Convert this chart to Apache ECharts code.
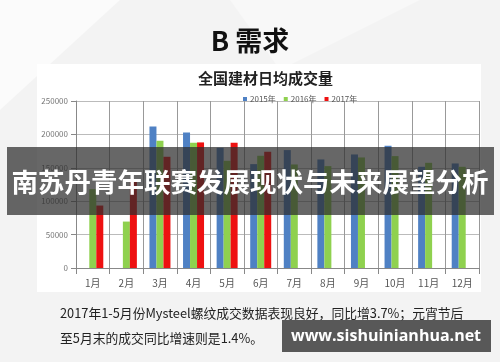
<!DOCTYPE html>
<html><head><meta charset="utf-8">
<script src="https://cdn.jsdelivr.net/npm/echarts@6/dist/echarts.min.js"></script>
<style>html,body{margin:0;padding:0;background:#f3f3f3;}#c{width:500px;height:362px;}</style>
</head><body><div id="c"></div>
<script>
const categories = ['1月','2月','3月','4月','5月','6月','7月','8月','9月','10月','11月','12月'];
const seriesNames = ['2015年','2016年','2017年'];
const v2015 = [null, null, 212000, 203000, 180000, 155500, 176500, 162500, 170000, 183000, 151500, 156500];
const v2016 = [118000, 69500, 190500, 187500, 160500, 168000, 155000, 152500, 165500, 167500, 157500, 151500];
const v2017 = [93500, 130000, 166500, 188000, 187500, 174000, null, null, null, null, null, null];
const yTicks = [0, 50000, 100000, 150000, 200000, 250000];
const colors = ['#4f81c4', '#8fd14f', '#ee1111'];

const chart = echarts.init(document.getElementById('c'), null, {renderer: 'canvas'});
const cjk = '"Noto Sans CJK SC", "Noto Sans", sans-serif';
chart.setOption({
  backgroundColor: '#f3f3f3',
  animation: false,
  textStyle: {fontFamily: cjk},
  title: [
    {text: 'B 需求', left: 'center', top: 22, textStyle: {fontSize: 27, fontWeight: 'bold', color: '#111', fontFamily: cjk}},
    {text: '全国建材日均成交量', left: 193, top: 66, textStyle: {fontSize: 15, fontWeight: 'bold', color: '#222', fontFamily: cjk}}
  ],
  legend: {
    data: seriesNames, left: 238, top: 90, itemWidth: 4, itemHeight: 4, itemGap: 8, icon: 'rect',
    textStyle: {fontSize: 8, color: '#555', padding: [0,0,0,-2]}
  },
  grid: {left: 76, right: 21, top: 101, bottom: 94},
  xAxis: {
    type: 'category', data: categories,
    axisLine: {lineStyle: {color: '#888'}},
    axisTick: {show: true, length: 6, lineStyle: {color: '#888'}},
    axisLabel: {fontSize: 10, color: '#555', margin: 10},
    splitLine: {show: true, lineStyle: {color: '#999'}}
  },
  yAxis: {
    type: 'value', min: 0, max: 250000, interval: 50000,
    axisLine: {show: true, lineStyle: {color: '#888'}},
    axisTick: {show: true, length: 5, lineStyle: {color: '#888'}},
    axisLabel: {fontSize: 8, color: '#777', margin: 8, formatter: v => yTicks.includes(v) ? String(v) : ''},
    splitLine: {show: true, lineStyle: {color: '#bbb'}}
  },
  series: [
    {name: seriesNames[0], type: 'bar', data: v2015, barWidth: 7, barGap: '0%', itemStyle: {color: colors[0]}},
    {name: seriesNames[1], type: 'bar', data: v2016, barWidth: 7, barGap: '0%', itemStyle: {color: colors[1]}},
    {name: seriesNames[2], type: 'bar', data: v2017, barWidth: 7, barGap: '0%', itemStyle: {color: colors[2]}}
  ],
  graphic: [
    {type: 'polygon', z: -10, silent: true, shape: {points: [[0,0],[120,0],[0,110]]}, style: {fill: '#fbfbfb'}},
    {type: 'polygon', z: -10, silent: true, shape: {points: [[230,0],[420,0],[280,70]]}, style: {fill: '#f8f8f8'}},
    {type: 'rect', z: -5, silent: true, shape: {x: 37, y: 64, width: 444, height: 228}, style: {fill: '#ffffff'}},
    {type: 'rect', z: 100, silent: true, shape: {x: 7, y: 147, width: 487, height: 68}, style: {fill: 'rgba(45,45,45,0.72)'}},
    {type: 'text', z: 101, silent: true, x: 250, y: 182, style: {text: '南苏丹青年联赛发展现状与未来展望分析', fill: '#fff', font: 'bold 26.5px "Noto Sans CJK SC", sans-serif', align: 'center', verticalAlign: 'middle'}},
    {type: 'text', z: 101, silent: true, x: 60, y: 313, style: {text: '2017年1-5月份Mysteel螺纹成交数据表现良好，同比增3.7%；元宵节后', fill: '#222', font: '12.8px "Noto Sans CJK SC", sans-serif', align: 'left', verticalAlign: 'middle'}},
    {type: 'text', z: 101, silent: true, x: 60, y: 338, style: {text: '至5月末的成交同比增速则是1.4%。', fill: '#222', font: '12.8px "Noto Sans CJK SC", sans-serif', align: 'left', verticalAlign: 'middle'}},
    {type: 'rect', z: 102, silent: true, shape: {x: 282, y: 320, width: 209, height: 32}, style: {fill: 'rgba(75,75,75,0.92)'}},
    {type: 'text', z: 103, silent: true, x: 386, y: 336, style: {text: 'www.sishuinianhua.net', fill: '#fff', font: 'bold 16px "Open Sans", "DejaVu Sans", sans-serif', align: 'center', verticalAlign: 'middle'}}
  ]
});
</script></body></html>
